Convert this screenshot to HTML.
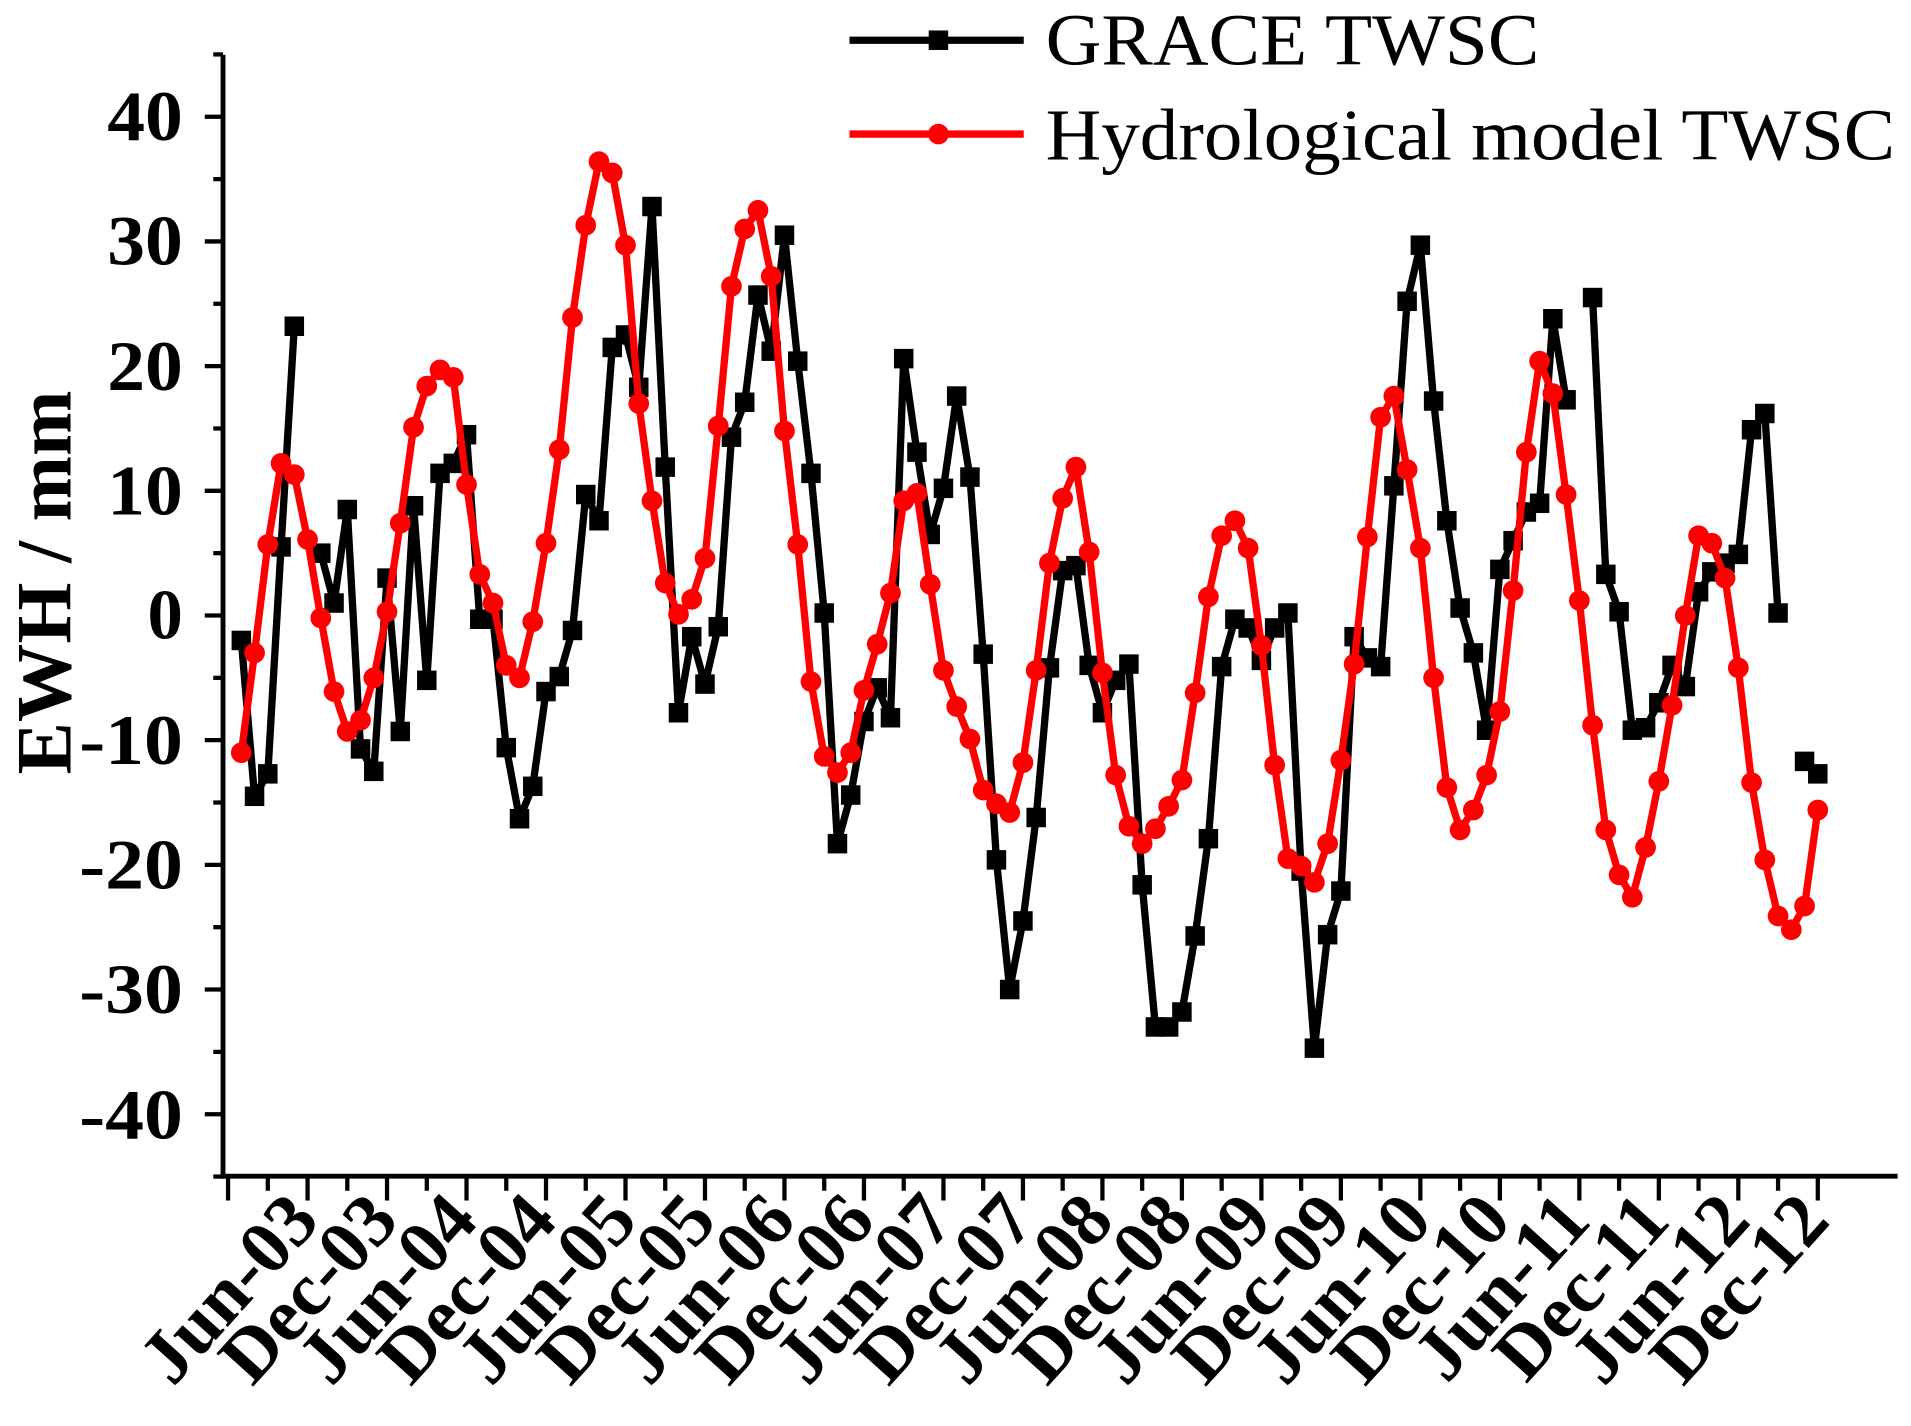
<!DOCTYPE html>
<html><head><meta charset="utf-8"><style>html,body{margin:0;padding:0;background:#fff;}svg{display:block}</style></head>
<body>
<svg id="c" width="1911" height="1426" viewBox="0 0 1568 1170" preserveAspectRatio="none" xmlns="http://www.w3.org/2000/svg" font-family="'Liberation Serif', serif">
<g id="axes" stroke="#000" stroke-width="4" fill="none">
<line x1="183" y1="45" x2="183" y2="967"/>
<line x1="181" y1="965" x2="1557" y2="965"/>
</g>
<g id="ticks" stroke="#000" stroke-width="3.5"></g>
<g font-weight="bold" font-size="58" text-anchor="end" fill="#000">
<text x="150" y="115" textLength="62" lengthAdjust="spacingAndGlyphs">40</text>
<text x="150" y="217" textLength="62" lengthAdjust="spacingAndGlyphs">30</text>
<text x="150" y="320" textLength="62" lengthAdjust="spacingAndGlyphs">20</text>
<text x="150" y="422" textLength="62" lengthAdjust="spacingAndGlyphs">10</text>
<text x="150" y="524">0</text>
<text x="150" y="627" textLength="85" lengthAdjust="spacingAndGlyphs">-10</text>
<text x="150" y="729" textLength="85" lengthAdjust="spacingAndGlyphs">-20</text>
<text x="150" y="831" textLength="85" lengthAdjust="spacingAndGlyphs">-30</text>
<text x="150" y="934" textLength="85" lengthAdjust="spacingAndGlyphs">-40</text>
</g>
<text transform="translate(58,478) rotate(-90)" text-anchor="middle" font-weight="bold" font-size="64" textLength="315" lengthAdjust="spacingAndGlyphs">EWH / mm</text>
<g font-weight="bold" font-size="62" text-anchor="end">
<text transform="translate(264,1003) rotate(-48)">Jun-03</text>
<text transform="translate(329,1003) rotate(-48)">Dec-03</text>
<text transform="translate(394,1003) rotate(-48)">Jun-04</text>
<text transform="translate(459,1003) rotate(-48)">Dec-04</text>
<text transform="translate(525,1003) rotate(-48)">Jun-05</text>
<text transform="translate(590,1003) rotate(-48)">Dec-05</text>
<text transform="translate(655,1003) rotate(-48)">Jun-06</text>
<text transform="translate(720,1003) rotate(-48)">Dec-06</text>
<text transform="translate(785,1003) rotate(-48)">Jun-07</text>
<text transform="translate(851,1003) rotate(-48)">Dec-07</text>
<text transform="translate(916,1003) rotate(-48)">Jun-08</text>
<text transform="translate(981,1003) rotate(-48)">Dec-08</text>
<text transform="translate(1046,1003) rotate(-48)">Jun-09</text>
<text transform="translate(1111,1003) rotate(-48)">Dec-09</text>
<text transform="translate(1177,1003) rotate(-48)">Jun-10</text>
<text transform="translate(1242,1003) rotate(-48)">Dec-10</text>
<text transform="translate(1307,1003) rotate(-48)">Jun-11</text>
<text transform="translate(1372,1003) rotate(-48)">Dec-11</text>
<text transform="translate(1438,1003) rotate(-48)">Jun-12</text>
<text transform="translate(1503,1003) rotate(-48)">Dec-12</text>
</g>
<g id="series"></g>
<g>
<line x1="697" y1="33" x2="840" y2="33" stroke="#000" stroke-width="6"/>
<rect x="762" y="25" width="16" height="16" fill="#000"/>
<text x="858" y="53" font-size="60" textLength="405" lengthAdjust="spacingAndGlyphs">GRACE TWSC</text>
<line x1="697" y1="110" x2="840" y2="110" stroke="#f00" stroke-width="6"/>
<circle cx="770" cy="110" r="8.5" fill="#f00"/>
<text x="858" y="131" font-size="60" textLength="697" lengthAdjust="spacingAndGlyphs">Hydrological model TWSC</text>
</g>
</svg>
<script>
var NS="http://www.w3.org/2000/svg";
function el(t,a,p){var e=document.createElementNS(NS,t);for(var k in a)e.setAttribute(k,a[k]);p.appendChild(e);return e;}
var tk=document.getElementById('ticks');
for(var v=-45;v<=45;v+=5){var y=505-v*10.23;var major=(v%10===0);el('line',{x1:major?168:175,y1:y,x2:183,y2:y},tk);}
for(var i=-1;i<=119;i+=3){var x=198+10.87*i;var lng=((i+1)%6===0);el('line',{x1:x,y1:965,x2:x,y2:lng?985:977},tk);}
var N=null;
var g=[-2,-14.5,-12.7,5.5,23.2,N,5,1,8.5,-10.7,-12.5,3,-9.3,8.8,-5.2,11.4,12.2,14.5,-0.3,-0.3,-10.6,-16.3,-13.7,-6.1,-4.9,-1.2,9.7,7.6,21.5,22.5,18.3,32.8,11.9,-7.8,-1.7,-5.5,-0.9,14.3,17.1,25.7,21.2,30.5,20.4,11.4,0.2,-18.3,-14.4,-8.5,-5.8,-8.2,20.6,13.1,6.5,10.2,17.6,11.1,-3.1,-19.6,-30,-24.5,-16.2,-4.2,3.6,4.0,-4.0,-7.8,-5.2,-3.9,-21.6,-33,-33,-31.8,-25.7,-17.9,-4.1,-0.3,-1.0,-3.6,-1.0,0.2,-20.5,-34.7,-25.6,-22.1,-1.7,-3.4,-4.1,10.4,25.2,29.7,17.2,7.6,0.6,-3.0,-9.2,3.7,6,8.3,9.0,23.8,17.3,N,25.5,3.3,0.3,-9.2,-9.0,-7.0,-4.0,-5.7,1.9,3.5,4.2,4.9,14.9,16.2,0.2,N,-11.7,-12.7];
var r=[-11,-3,5.7,12.2,11.3,6.1,-0.2,-6.1,-9.3,-8.4,-5,0.3,7.4,15.1,18.4,19.7,19.1,10.5,3.3,1.0,-4.0,-5.0,-0.5,5.8,13.3,23.9,31.3,36.4,35.5,29.7,17.0,9.2,2.6,0.1,1.3,4.6,15.2,26.4,31.0,32.5,27.2,14.8,5.7,-5.3,-11.3,-12.6,-11.0,-6.0,-2.3,1.8,9.2,9.8,2.5,-4.4,-7.3,-9.9,-14.0,-15.1,-15.8,-11.8,-4.4,4.2,9.4,11.9,5.1,-4.6,-12.8,-16.9,-18.3,-17.1,-15.3,-13.2,-6.2,1.5,6.4,7.6,5.4,-2.4,-12.0,-19.5,-20.1,-21.4,-18.3,-11.6,-3.9,6.3,15.9,17.6,11.7,5.4,-5.0,-13.8,-17.2,-15.6,-12.8,-7.7,2.0,13.1,20.4,17.8,9.7,1.2,-8.8,-17.2,-20.8,-22.6,-18.6,-13.3,-7.2,0,6.4,5.8,3.0,-4.2,-13.4,-19.6,-24.1,-25.2,-23.3,-15.6];
var s=document.getElementById('series');
function draw(d,col,sq){
  var seg=[];var segs=[];
  d.forEach(function(v,i){if(v===null){if(seg.length)segs.push(seg);seg=[];}else seg.push([198+10.87*i,505-v*10.23]);});
  if(seg.length)segs.push(seg);
  segs.forEach(function(sg){el('polyline',{points:sg.map(function(p){return p.join(',')}).join(' '),fill:'none',stroke:col,'stroke-width':6,'stroke-linejoin':'round'},s);});
  segs.forEach(function(sg){sg.forEach(function(p){
    if(sq)el('rect',{x:p[0]-8,y:p[1]-8,width:16,height:16,fill:col},s);
    else el('circle',{cx:p[0],cy:p[1],r:8.5,fill:col},s);});});
}
draw(g,'#000',true);
draw(r,'#f00',false);
</script>
</body></html>
